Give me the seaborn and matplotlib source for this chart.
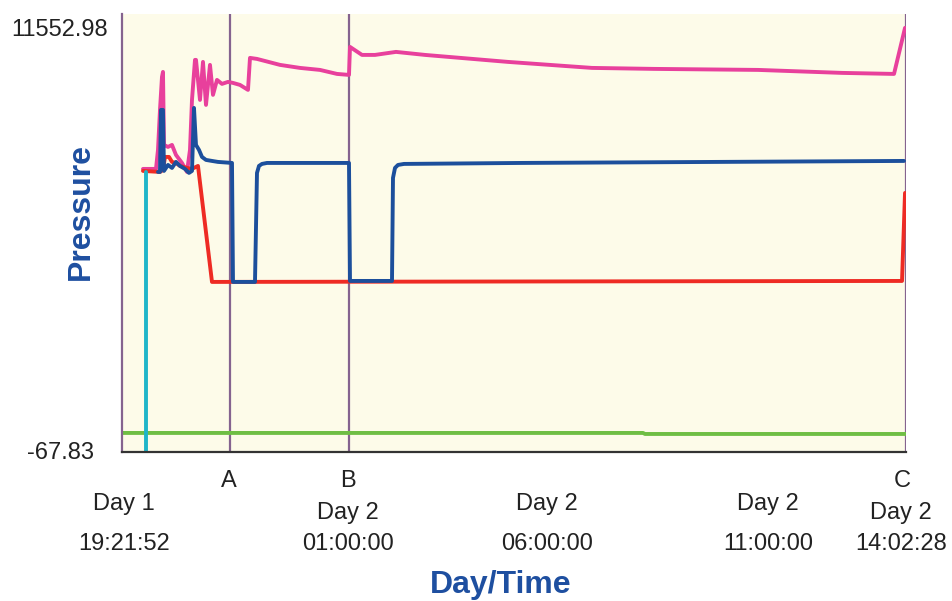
import matplotlib
matplotlib.use('agg')
import matplotlib.pyplot as plt
import seaborn as sns

# readings are in logger sample index (x) and pressure (y)
pink_x = [21, 34, 36, 38, 40, 41, 42, 46, 50, 54, 60, 65, 68, 70, 73, 74, 78, 81, 84, 88, 91, 95,
          100, 106, 111, 118, 126, 128, 135, 158, 178, 198, 215, 227, 228, 240, 253, 274, 303,
          386, 470, 532, 636, 720, 772, 783]
pink_y = [7679, 7679, 8201, 9299, 10206, 10343, 8338, 8283, 8338, 8063, 7843, 7596, 8201, 9574,
          10673, 10673, 9574, 10618, 9437, 10536, 9712, 10124, 10014, 10069, 10041, 9986, 9849,
          10728, 10700, 10536, 10453, 10398, 10288, 10261, 11030, 10810, 10810, 10893, 10810,
          10618, 10453, 10426, 10398, 10316, 10288, 11552.98]

blue_x = [36, 38, 39, 41, 42, 46, 50, 54, 58, 63, 67, 70, 72, 74, 77, 80, 84, 90, 96, 110, 111,
          133, 135, 137, 140, 145, 227, 228, 270, 271, 273, 276, 282, 400, 595, 782]
blue_y = [7596, 7596, 9299, 9299, 7624, 7788, 7706, 7871, 7761, 7679, 7569, 7624, 9354, 8338,
          8201, 8008, 7926, 7898, 7871, 7843, 4575, 4575, 7569, 7761, 7816, 7843, 7843, 4602,
          4602, 7432, 7706, 7788, 7816, 7843, 7871, 7898]

red_x = [21, 38, 41, 43, 47, 50, 54, 58, 65, 70, 76, 90, 780, 783]
red_y = [7624, 7596, 7651, 8008, 8008, 7871, 7843, 7761, 7706, 7679, 7761, 4575, 4602, 7019]

cyan_x = [24, 24]
cyan_y = [-67.83, 7596]

green_x = [0, 521, 523, 784]
green_y = [427, 427, 399, 399]

marker_names = ['A', 'B', 'C']
marker_x = [108, 227, 784]

time_x = [2, 226, 425, 646, 779]
day_labels = ['Day 1', 'Day 2', 'Day 2', 'Day 2', 'Day 2']
clock_labels = ['19:21:52', '01:00:00', '06:00:00', '11:00:00', '14:02:28']

y_ticks = [-67.83, 11552.98]
y_tick_labels = ['-67.83', '11552.98']

sns.set_style('white')
plt.rcParams['font.family'] = ['Liberation Sans', 'DejaVu Sans']

fig = plt.figure(figsize=(9.53, 6.01), dpi=100)
ax = fig.add_axes([0.128, 0.248, 0.8227, 0.7289])
ax.set_facecolor('#fdfbe9')

purple = '#85638f'
for mx in marker_x:
    ax.axvline(mx, color=purple, lw=1.6, zorder=1)

lw = 2.8
sns.lineplot(x=green_x, y=green_y, color='#6fbe44', lw=lw, sort=False, estimator=None, ax=ax)
sns.lineplot(x=pink_x, y=pink_y, color='#e8409c', lw=lw, sort=False, estimator=None, ax=ax)
sns.lineplot(x=red_x, y=red_y, color='#ee2b24', lw=lw, sort=False, estimator=None, ax=ax)
sns.lineplot(x=blue_x, y=blue_y, color='#1c4f9c', lw=lw, sort=False, estimator=None, ax=ax)
sns.lineplot(x=cyan_x, y=cyan_y, color='#1fb5c9', lw=lw, sort=False, estimator=None, ax=ax)

ax.set_xlim(0, 784)
ax.set_ylim(-95, 11937)

for side in ['top', 'right']:
    ax.spines[side].set_visible(False)
ax.spines['left'].set_color(purple)
ax.spines['left'].set_linewidth(1.6)
ax.spines['bottom'].set_color('#333333')
ax.spines['bottom'].set_linewidth(1.6)

ax.set_xticks([])
ax.set_yticks(y_ticks)
ax.set_yticklabels(y_tick_labels, fontsize=17, color='#222222')
ax.tick_params(axis='y', length=0, pad=44.6)
for lab in ax.get_yticklabels():
    lab.set_ha('center')

# bottom annotations
tr = ax.get_xaxis_transform()
for name, mx in zip(marker_names, [107, 226, 780]):
    ax.text(mx, -0.066, name, transform=tr, ha='center', va='center', fontsize=17, color='#222222')
for i, (tx, d, c) in enumerate(zip(time_x, day_labels, clock_labels)):
    dy = -0.139 if i in (1, 4) else -0.119
    ax.text(tx, dy, d, transform=tr, ha='center', va='center', fontsize=17, color='#222222')
    ax.text(tx, -0.210, c, transform=tr, ha='center', va='center', fontsize=17, color='#222222')

blue_txt = '#1e4fa0'
ax.set_ylabel('Pressure', fontsize=23, fontweight='bold', color=blue_txt, va='center')
ax.yaxis.set_label_coords(-0.052, 0.55)
ax.set_xlabel('Day/Time', fontsize=23, fontweight='bold', color=blue_txt, va='center')
ax.xaxis.set_label_coords(0.483, -0.304)

fig.savefig('out.png', dpi=100)
